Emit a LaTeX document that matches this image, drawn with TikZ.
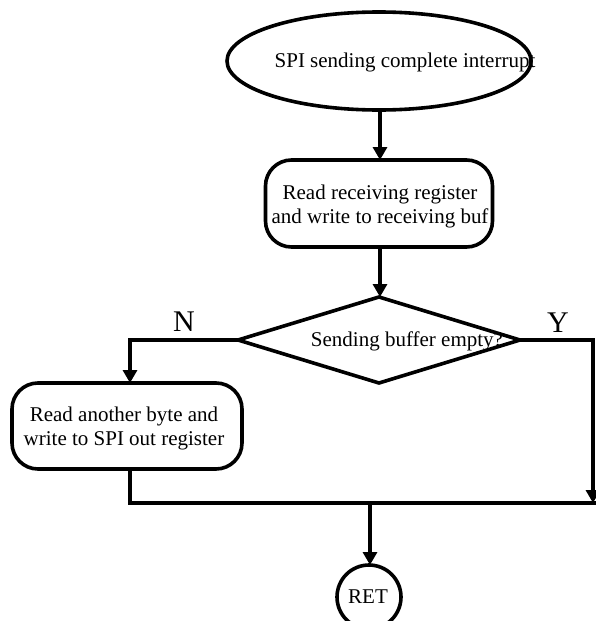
\documentclass[tikz,border=0pt]{standalone}
\usepackage{fontspec}
\setmainfont{Liberation Serif}
\usetikzlibrary{shapes.geometric,arrows.meta}

\tikzset{
  flowline/.style={line width=3.2pt, line join=miter},
  flowarrow/.style={flowline, -{Triangle[length=13pt,width=14pt]}},
  shapeline/.style={draw, line width=3.6pt, inner sep=0pt, outer sep=0pt},
  procbox/.style={shapeline, rectangle, rounded corners=26pt},
  txt/.style={font=\fontsize{21}{24}\selectfont, align=center, inner sep=0pt},
  yn/.style={font=\fontsize{30}{32}\selectfont, inner sep=0pt}
}

\begin{document}
\begin{tikzpicture}[x=1pt, y=-1pt]
  \useasboundingbox (0,0) rectangle (595,621);

  % start event
  \node[shapeline, ellipse, minimum width=304pt, minimum height=98pt] (start) at (379,61) {};
  \node[txt] (starttxt) at (405,62) {SPI sending complete interrupt};

  % read receiving register
  \node[procbox, minimum width=227pt, minimum height=87pt] (rx) at (379,203.5) {};
  \node[txt] (rxtxt) at (380,206) {Read receiving register\\and write to receiving buf};

  % decision
  \node[shapeline, diamond, minimum width=282pt, minimum height=86pt] (dec) at (379,340) {};
  \node[txt] (dectxt) at (407,341) {Sending buffer empty?};

  % send next byte
  \node[procbox, minimum width=230pt, minimum height=86pt] (tx) at (127,426) {};
  \node[txt] (txtxt) at (124,428) {Read another byte and\\write to SPI out register};

  % return
  \node[shapeline, circle, minimum size=64pt] (ret) at (369,597) {};
  \node[txt] (rettxt) at (368,597) {RET};

  % branch labels
  \node[yn] (nlab) at (184,322) {N};
  \node[yn] (ylab) at (558,323) {Y};

  % junction coordinates
  \coordinate (nturn) at (130,340);
  \coordinate (yturn) at (593,340);
  \coordinate (ydown) at (593,503);
  \coordinate (mleft) at (130,503);
  \coordinate (mright) at (598,503);
  \coordinate (mret) at (370,503);

  % connectors
  \draw[flowarrow] (start.south -| 380,0) -- (rx.north -| 380,0);
  \draw[flowarrow] (rx.south -| 380,0) -- (dec.north -| 380,0);
  \draw[flowarrow] (dec.west) -- (nturn) -- (tx.north -| nturn);
  \draw[flowarrow] (dec.east) -- (yturn) -- (ydown);
  \draw[flowline] (tx.south -| mleft) -- (mleft) -- (mright);
  \draw[flowarrow] (mret) -- (ret.north -| mret);
\end{tikzpicture}
\end{document}
